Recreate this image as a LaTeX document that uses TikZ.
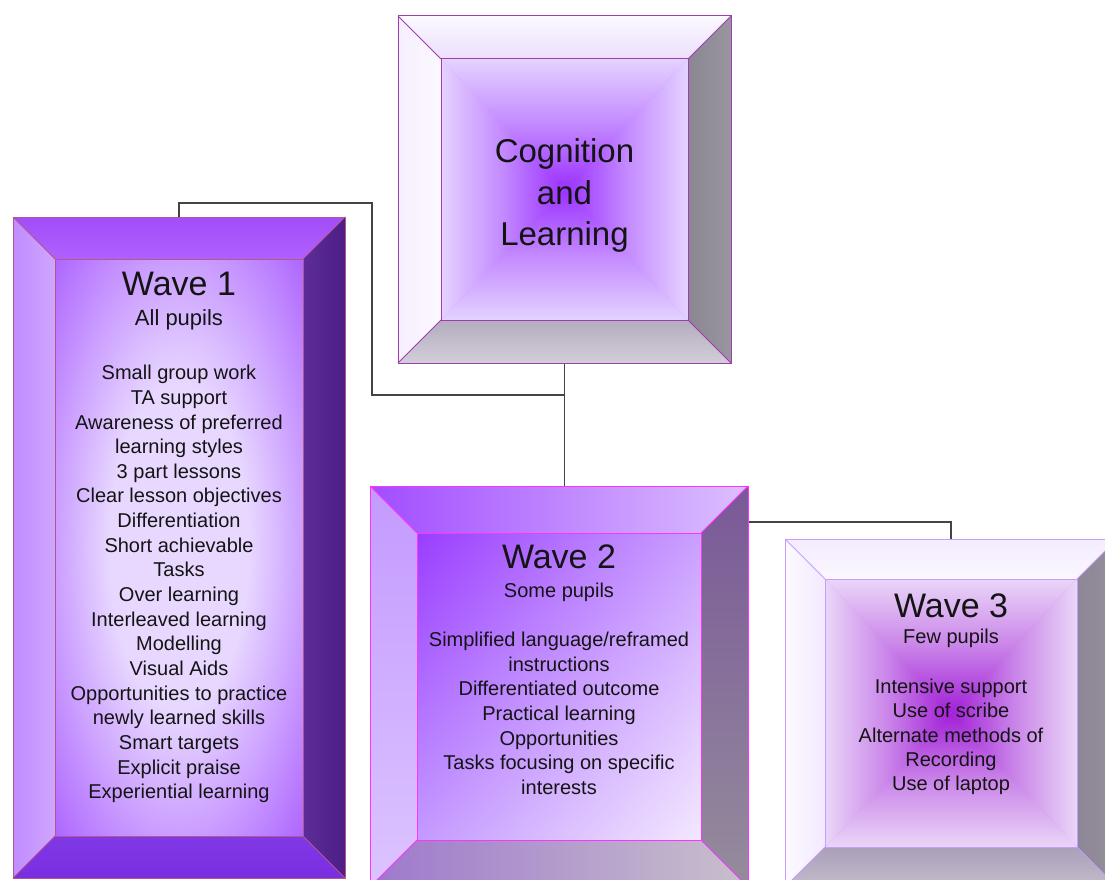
\documentclass[tikz,border=0pt]{standalone}
\usepackage{fontspec}
\setmainfont{Liberation Sans}
\usetikzlibrary{calc,shadings}

% palette
\definecolor{ink}{HTML}{141414}
\definecolor{wire}{HTML}{444444}
\definecolor{cogEdge}{HTML}{E4D2FF}
\definecolor{cogCore}{HTML}{9B30FF}
\definecolor{cogLine}{HTML}{A03CB0}
\definecolor{waIn}{HTML}{E8D8FF}
\definecolor{waOut}{HTML}{9C42FF}
\definecolor{waLine}{HTML}{B05A8C}
\definecolor{wbLine}{HTML}{FF33FF}
\definecolor{wbUL}{HTML}{9A3DFF}
\definecolor{wbUR}{HTML}{CAA0FF}
\definecolor{wbLL}{HTML}{C49AFF}
\definecolor{wbLR}{HTML}{F3E8FF}
\definecolor{wcEdge}{HTML}{EAD6F8}
\definecolor{wcCore}{HTML}{A21FD6}
\definecolor{wcLine}{HTML}{C89CFF}

\pgfdeclareradialshading{wavecore}{\pgfpoint{0bp}{0bp}}{%
  color(0bp)=(waIn); color(14bp)=(waIn); color(42bp)=(waOut); color(50bp)=(waOut)}

% four bevel faces of a framed box node
\newcommand{\bevelbox}[3]{%
  \coordinate (#1-a) at (#1.north west);
  \coordinate (#1-b) at (#1.north east);
  \coordinate (#1-c) at (#1.south east);
  \coordinate (#1-d) at (#1.south west);
  \coordinate (#1-e) at ([shift={(#2pt,-#2pt)}]#1.north west);
  \coordinate (#1-f) at ([shift={(-#2pt,-#2pt)}]#1.north east);
  \coordinate (#1-g) at ([shift={(-#2pt,#2pt)}]#1.south east);
  \coordinate (#1-h) at ([shift={(#2pt,#2pt)}]#1.south west);
  \coordinate (#1-m) at (#1.center);
  \shade[#3top] (#1-a) -- (#1-b) -- (#1-f) -- (#1-e) -- cycle;
  \shade[#3left] (#1-a) -- (#1-e) -- (#1-h) -- (#1-d) -- cycle;
  \shade[#3right] (#1-b) -- (#1-c) -- (#1-g) -- (#1-f) -- cycle;
  \shade[#3bottom] (#1-d) -- (#1-h) -- (#1-g) -- (#1-c) -- cycle;
}
% front face shaded from its rim towards the middle
\newcommand{\pyramidface}[3]{%
  \fill[#3!45!#2] (#1-e) rectangle (#1-g);
  \shade[top color=#2, bottom color=#3, middle color=#2!55!#3] (#1-e) -- (#1-f) -- (#1-m) -- cycle;
  \shade[top color=#3, bottom color=#2, middle color=#2!55!#3] (#1-h) -- (#1-g) -- (#1-m) -- cycle;
  \shade[left color=#2, right color=#3, middle color=#2!55!#3] (#1-e) -- (#1-h) -- (#1-m) -- cycle;
  \shade[left color=#3, right color=#2, middle color=#2!55!#3] (#1-f) -- (#1-g) -- (#1-m) -- cycle;
}
% outline of the frame: rims and mitre lines
\newcommand{\bevellines}[2]{%
  \draw[#2, line width=1pt, line join=miter] (#1-a) rectangle (#1-c);
  \draw[#2, line width=1pt] (#1-e) rectangle (#1-g);
  \draw[#2, line width=1pt] (#1-a) -- (#1-e) (#1-b) -- (#1-f) (#1-c) -- (#1-g) (#1-d) -- (#1-h);
}

\tikzset{
  frame/.style={rectangle, inner sep=0pt, outer sep=0pt},
  wirestyle/.style={draw=wire, line width=1.4pt},
  txt/.style={inner sep=0pt, text=ink, align=center},
  head/.style={txt, anchor=base, font=\fontsize{34}{40}\selectfont},
  sub/.style={txt, anchor=base, font=\fontsize{20}{24}\selectfont},
  list/.style={txt, anchor=north, font=\fontsize{20}{24.65}\selectfont},
  % bevel colours
  cogtop/.style={top color={rgb,255:red,252;green,250;blue,255}, bottom color={rgb,255:red,236;green,222;blue,253}},
  cogleft/.style={left color={rgb,255:red,246;green,238;blue,255}, right color={rgb,255:red,252;green,249;blue,255}},
  cogright/.style={left color={rgb,255:red,138;green,134;blue,146}, right color={rgb,255:red,154;green,150;blue,160}},
  cogbottom/.style={top color={rgb,255:red,180;green,172;blue,191}, bottom color={rgb,255:red,210;green,206;blue,216}},
  watop/.style={top color={rgb,255:red,162;green,77;blue,248}, bottom color={rgb,255:red,176;green,96;blue,255}},
  waleft/.style={left color={rgb,255:red,192;green,140;blue,255}, right color={rgb,255:red,207;green,166;blue,255}},
  waright/.style={left color={rgb,255:red,94;green,44;blue,152}, right color={rgb,255:red,76;green,30;blue,134}},
  wabottom/.style={top color={rgb,255:red,128;green,56;blue,230}, bottom color={rgb,255:red,122;green,46;blue,224}},
  wbtop/.style={left color={rgb,255:red,162;green,76;blue,255}, right color={rgb,255:red,220;green,192;blue,255}},
  wbleft/.style={top color={rgb,255:red,196;green,154;blue,255}, bottom color={rgb,255:red,220;green,196;blue,255}},
  wbright/.style={top color={rgb,255:red,122;green,88;blue,152}, bottom color={rgb,255:red,149;green,140;blue,156}},
  wbbottom/.style={left color={rgb,255:red,158;green,120;blue,204}, right color={rgb,255:red,200;green,192;blue,204}},
  wctop/.style={top color={rgb,255:red,243;green,236;blue,255}, bottom color={rgb,255:red,251;green,248;blue,255}},
  wcleft/.style={left color={rgb,255:red,252;green,250;blue,255}, right color={rgb,255:red,243;green,233;blue,255}},
  wcright/.style={left color={rgb,255:red,140;green,134;blue,150}, right color={rgb,255:red,150;green,144;blue,156}},
  wcbottom/.style={top color={rgb,255:red,170;green,159;blue,184}, bottom color={rgb,255:red,196;green,188;blue,203}},
}

\begin{document}
\begin{tikzpicture}[x=1pt, y=-1pt]
\useasboundingbox (0,0) rectangle (1105,880);
\clip (0,0) rectangle (1105,880);
\fill[white] (0,0) rectangle (1105,880);

% box outlines
\node[frame, minimum width=333pt, minimum height=347pt] (cog) at (564.5,189.5) {};
\node[frame, minimum width=332pt, minimum height=661pt] (w1) at (179,547.5) {};
\node[frame, minimum width=378pt, minimum height=401pt] (w2) at (559,686.5) {};
\node[frame, minimum width=332pt, minimum height=348pt] (w3) at (951,713) {};

% connectors
\coordinate (hub) at ([yshift=-32pt]cog.south);
\coordinate (elbow) at (372,203);
\coordinate (w3tap) at ([yshift=-36pt]w2.north east);
\draw[wirestyle] (cog.south) -- (cog.south |- w2.north);
\draw[wirestyle] (hub) -| (elbow) -| (w1.north);
\draw[wirestyle] (w3tap) -| (w3.north);

% Cognition and Learning
\bevelbox{cog}{43}{cog}
\pyramidface{cog}{cogEdge}{cogCore}
\bevellines{cog}{cogLine}

% Wave 1
\bevelbox{w1}{42}{wa}
\shade[shading=wavecore] (w1-e) rectangle (w1-g);
\bevellines{w1}{waLine}

% Wave 2
\bevelbox{w2}{47}{wb}
\shade[upper left=wbUL, upper right=wbUR, lower left=wbLL, lower right=wbLR] (w2-e) rectangle (w2-g);
\bevellines{w2}{wbLine}

% Wave 3
\bevelbox{w3}{40}{wc}
\pyramidface{w3}{wcEdge}{wcCore}
\bevellines{w3}{wcLine}

% texts
\node[list, font=\fontsize{33}{41.5}\selectfont] (cogtxt) at (564.5,138.5) {Cognition\\and\\Learning};

\node[head] (w1head) at (179,295) {Wave 1};
\node[sub, font=\fontsize{22}{26}\selectfont] (w1sub) at (179,325) {All pupils};
\node[list] (w1list) at (179,365) {Small group work\\TA support\\Awareness of preferred\\learning styles\\3 part lessons\\Clear lesson objectives\\Differentiation\\Short achievable\\Tasks\\Over learning\\Interleaved learning\\Modelling\\Visual Aids\\Opportunities to practice\\newly learned skills\\Smart targets\\Explicit praise\\Experiential learning};

\node[head] (w2head) at (559,568) {Wave 2};
\node[sub] (w2sub) at (559,597) {Some pupils};
\node[list] (w2list) at (559,631.7) {Simplified language/reframed\\instructions\\Differentiated outcome\\Practical learning\\Opportunities\\Tasks focusing on specific\\interests};

\node[head] (w3head) at (951,617) {Wave 3};
\node[sub] (w3sub) at (951,643) {Few pupils};
\node[list, font=\fontsize{20}{24.3}\selectfont] (w3list) at (951,678.7) {Intensive support\\Use of scribe\\Alternate methods of\\Recording\\Use of laptop};
\end{tikzpicture}
\end{document}
